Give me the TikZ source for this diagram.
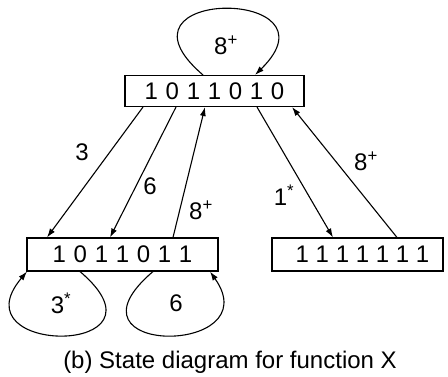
\documentclass[tikz,border=0pt]{standalone}
\usepackage{fontspec}
\setmainfont{Liberation Sans}
\usetikzlibrary{arrows.meta}
\begin{document}
\begin{tikzpicture}[x=1pt,y=1pt,
  every node/.style={font=\fontsize{24}{26}\selectfont},
  statebox/.style={draw,line width=1.1pt,inner sep=0pt,minimum height=31pt},
  edgeline/.style={line width=1.1pt,-{Latex[length=9pt,width=6pt]}},
  lbl/.style={inner sep=0pt}]
\useasboundingbox (0,0) rectangle (448,376);

% states
\node[statebox,minimum width=179pt] (top) at (214.5,285) {\spaceskip=7.7pt\relax 1 0 1 1 0 1 0};
\node[statebox,minimum width=191pt,minimum height=33pt] (bl) at (122.5,121.5) {\spaceskip=7.7pt\relax 1 0 1 1 0 1 1};
\node[statebox,minimum width=171pt,minimum height=33pt] (br) at (357.5,121.5) {\spaceskip=6.7pt\relax\hspace{10pt}1 1 1 1 1 1 1};

% transitions between states
\draw[edgeline] ([xshift=-71.5pt]top.south) -- ([xshift=-75.5pt]bl.north);
\draw[edgeline] ([xshift=-38.5pt]top.south) -- ([xshift=-12.5pt]bl.north);
\draw[edgeline] ([xshift=50.5pt]bl.north) -- ([xshift=-9.5pt]top.south);
\draw[edgeline] ([xshift=42.5pt]top.south) -- ([xshift=-24.5pt]br.north);
\draw[edgeline] ([xshift=39.5pt]br.north) -- ([xshift=77.5pt]top.south);

% self loops
\draw[edgeline] ([xshift=-11.5pt]top.north) .. controls +(-103,88) and +(90,88) .. ([xshift=40.5pt]top.north);
\draw[edgeline] ([xshift=-42.5pt]bl.south) .. controls +(100,-85) and +(-72,-85) .. ([xshift=-95.5pt]bl.south);
\draw[edgeline] ([xshift=30.5pt]bl.south) .. controls +(-100,-85) and +(60,-85) .. ([xshift=87.5pt]bl.south);

% labels
\node[lbl] (l3) at (82,224) {3};
\node[lbl] (l6) at (150,190) {6};
\node[lbl] (l8a) at (201,166) {8\textsuperscript{+}};
\node[lbl] (l1) at (284,181) {1\textsuperscript{*}};
\node[lbl] (l8b) at (366,215) {8\textsuperscript{+}};
\node[lbl] (l8c) at (226,331) {8\textsuperscript{+}};
\node[lbl] (l3s) at (61,73) {3\textsuperscript{*}};
\node[lbl] (l6s) at (176,73) {6};

% caption
\node[lbl] (cap) at (230,14) {(b) State diagram for function X};
\end{tikzpicture}
\end{document}
